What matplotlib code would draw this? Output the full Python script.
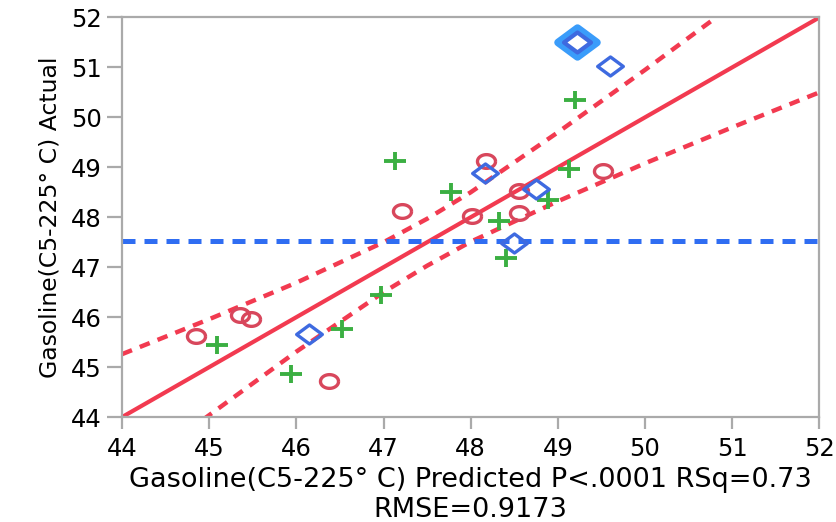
import numpy as np
import matplotlib
matplotlib.use('Agg')
import matplotlib.pyplot as plt
from matplotlib.path import Path

# points (predicted, actual)
circ_x = [44.85, 45.35, 45.48, 46.37, 47.21, 48.01, 48.18, 48.55, 48.56, 49.52]
circ_y = [45.63, 46.05, 45.97, 44.73, 48.13, 48.03, 49.13, 48.53, 48.09, 48.93]

plus_x = [45.09, 45.94, 46.52, 46.97, 47.13, 47.78, 48.33, 48.41, 48.89, 49.13, 49.20]
plus_y = [45.45, 44.87, 45.77, 46.45, 49.13, 48.51, 47.93, 47.19, 48.35, 48.97, 50.34]

diam_x = [46.15, 48.17, 48.50, 48.75, 49.60]
diam_y = [45.67, 48.89, 47.49, 48.57, 51.02]
sel_x = [49.22]
sel_y = [51.50]

# fit line and confidence curves
fit_x = [44, 52]
fit_y = [44, 52]
up_x = [44, 45, 46, 47, 47.5, 48, 49, 50, 50.8]
up_y = [45.26, 45.96, 46.69, 47.50, 47.97, 48.50, 49.70, 50.95, 51.98]
lo_x = [44.93, 46, 47, 47.5, 48, 49, 50, 51, 52]
lo_y = [43.95, 45.31, 46.50, 47.03, 47.51, 48.32, 49.08, 49.80, 50.50]
y_mean = 47.53

xticks = np.arange(44, 53, 1)
yticks = np.arange(44, 53, 1)

plt.rcParams['font.family'] = ['DejaVu Sans']

fig = plt.figure(figsize=(8.36, 5.22), dpi=100)
ax = fig.add_axes([0.146, 0.201, 0.834, 0.7655])

red_line = '#F23A50'
ax.plot(fit_x, fit_y, color=red_line, lw=3.0, zorder=2, solid_capstyle='butt')
ax.plot(up_x, up_y, color=red_line, lw=3.2, dashes=(2.4, 1.9), zorder=2)
ax.plot(lo_x, lo_y, color=red_line, lw=3.2, dashes=(2.4, 1.9), zorder=2)
ax.axhline(y_mean, color='#2F6DF2', lw=3.6, dashes=(2.6, 1.8), zorder=2)

# JMP markers look a little wider than tall
t = np.linspace(0, 2 * np.pi, 60)
ellipse = Path(np.column_stack([np.cos(t), 0.76 * np.sin(t)]))
diamond = Path([(-1, 0), (0, 0.74), (1, 0), (0, -0.74), (-1, 0)],
               [Path.MOVETO, Path.LINETO, Path.LINETO, Path.LINETO, Path.CLOSEPOLY])
plus = Path([(-1, 0), (1, 0), (0, -0.8), (0, 0.8)],
            [Path.MOVETO, Path.LINETO, Path.MOVETO, Path.LINETO])

ax.plot(circ_x, circ_y, ls='none', marker=ellipse, ms=13, mfc='none',
        mec='#D8475C', mew=2.4, zorder=3)
ax.plot(plus_x, plus_y, ls='none', marker=plus, ms=16, mec='#3BAF42',
        mew=2.8, zorder=3)
ax.plot(sel_x, sel_y, ls='none', marker=diamond, ms=28, mfc='none',
        mec='#3A9CFA', mew=5.5, zorder=3)
ax.plot(sel_x, sel_y, ls='none', marker=diamond, ms=19.5, mfc='none',
        mec='#3E6AE0', mew=3.0, zorder=4)
ax.plot(diam_x, diam_y, ls='none', marker=diamond, ms=18.5, mfc='none',
        mec='#3E6AE0', mew=2.4, zorder=3)

ax.set_xlim(44, 52)
ax.set_ylim(44, 52)
ax.set_xticks(xticks)
ax.set_yticks(yticks)
for s in ax.spines.values():
    s.set_color('#AAAAAA')
    s.set_linewidth(1.6)
ax.tick_params(colors='#AAAAAA', labelcolor='black', width=1.6, labelsize=17.5)
ax.tick_params(axis='x', length=8.5, pad=6)
ax.tick_params(axis='y', length=10.5, pad=4)

ax.set_xlabel('Gasoline(C5-225° C) Predicted P<.0001 RSq=0.73\nRMSE=0.9173',
              fontsize=19.5, linespacing=1.2, labelpad=4)
ax.set_ylabel('Gasoline(C5-225° C) Actual', fontsize=16.9, labelpad=7)

fig.savefig('out.png', dpi=100)
